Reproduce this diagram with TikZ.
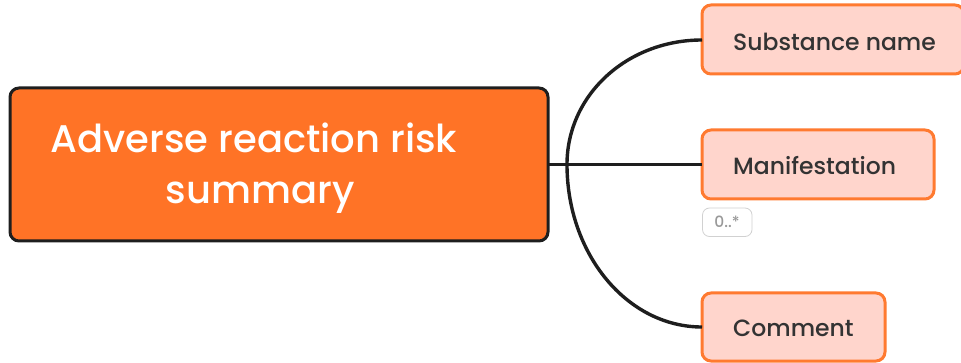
\documentclass[tikz,border=0pt]{standalone}
\usepackage{fontspec}
\setmainfont{Poppins}[UprightFont=* Medium]
\definecolor{mainor}{HTML}{FF7326}
\definecolor{kidfill}{HTML}{FFD5CC}
\definecolor{kidline}{HTML}{FF7A30}
\definecolor{darkl}{HTML}{1E1E1E}
\definecolor{kidtxt}{HTML}{333333}
\begin{document}
\begin{tikzpicture}[x=1pt,y=-1pt,
  mainbox/.style={draw=darkl,line width=3pt,fill=mainor,rounded corners=9pt},
  kidbox/.style={draw=kidline,line width=3pt,fill=kidfill,rounded corners=9pt},
  kidtext/.style={anchor=base west,inner sep=0pt,text=kidtxt,font=\fontsize{23.5}{25}\selectfont},
  conn/.style={draw=darkl,line width=3.4pt},
  multbox/.style={draw=black!18,line width=0.8pt,fill=white,rounded corners=7pt}]
\useasboundingbox (0,0) rectangle (961,363);
% main
\draw[mainbox] (10,88) rectangle (548,241);
\node[inner sep=0pt,text=white,anchor=base,font=\fontsize{38.5}{44}\selectfont] (t1) at (254,153) {Adverse reaction risk};
\node[inner sep=0pt,text=white,anchor=base,font=\fontsize{38.5}{44}\selectfont] (t2) at (260,204) {summary};
\coordinate (mr) at (548,164.5);
\coordinate (jn) at (567,164.5);
% kids
\draw[kidbox] (702,5) rectangle (964,74);
\draw[kidbox] (702,130) rectangle (934,199);
\draw[kidbox] (702,293) rectangle (885,361);
\coordinate (k1) at (702,40);
\coordinate (k2) at (702,164.5);
\coordinate (k3) at (702,327);
\node[kidtext] (s1) at (733,51) {Substance name};
\node[kidtext] (s2) at (733,175) {Manifestation};
\node[kidtext] (s3) at (733,337) {Comment};
% connectors
\draw[conn] (mr) -- (k2);
\draw[conn] (jn) .. controls (567,95) and (627,40) .. (k1);
\draw[conn] (jn) .. controls (567,254) and (627,327) .. (k3);
% multiplicity
\draw[multbox] (702.5,208) rectangle (752,236.5);
\node[inner sep=0pt,text=black!40,font=\fontsize{15.5}{17}\selectfont] (mult) at (727,222) {0..*};
\end{tikzpicture}
\end{document}
